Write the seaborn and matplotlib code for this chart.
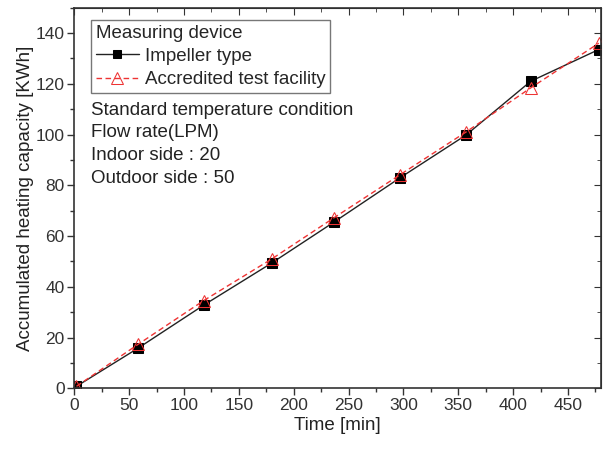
import matplotlib
matplotlib.use("Agg")
import matplotlib.pyplot as plt
import seaborn as sns
import pandas as pd
from matplotlib.ticker import MultipleLocator

sns.set_style("ticks")
plt.rcParams['font.family'] = ['Liberation Sans', 'DejaVu Sans']

time_min = [2, 58, 118, 180, 237, 297, 357, 416, 478]
impeller = [0.8, 15.8, 32.8, 49.4, 65.6, 83.0, 99.8, 121.0, 133.5]
accredited = [0.8, 17.3, 34.6, 51.0, 67.3, 84.2, 101.0, 118.4, 136.0]

series_names = ["Impeller type", "Accredited test facility"]

df = pd.DataFrame({
    "Time": time_min * 2,
    "Capacity": impeller + accredited,
    "Device": [series_names[0]] * len(time_min) + [series_names[1]] * len(time_min),
})

fig = plt.figure(figsize=(6.04, 4.5), dpi=100)
ax = fig.add_axes([0.123, 0.137, 0.872, 0.846])

sns.lineplot(data=df[df.Device == series_names[0]], x="Time", y="Capacity", ax=ax,
             color="#222222", lw=1.0, marker="s", markersize=7, markerfacecolor="black",
             markeredgecolor="black", label=series_names[0], linestyle="-")
sns.lineplot(data=df[df.Device == series_names[1]], x="Time", y="Capacity", ax=ax,
             color="#ee3333", lw=1.0, marker="^", markersize=9, markerfacecolor="none",
             markeredgecolor="#ee3333", label=series_names[1], linestyle=(0, (4, 2.5)))

ax.set_xlim(0, 480)
ax.set_ylim(0, 150)
ax.xaxis.set_major_locator(MultipleLocator(50))
ax.xaxis.set_minor_locator(MultipleLocator(25))
ax.yaxis.set_major_locator(MultipleLocator(20))
ax.yaxis.set_minor_locator(MultipleLocator(10))
ax.tick_params(which="both", direction="out", top=False, right=False, labelsize=12.5, colors="#333333", pad=2)
ax.tick_params(which="major", length=5, width=1)
ax.tick_params(which="minor", length=3, width=1)
axt = ax.secondary_xaxis("top")
axt.xaxis.set_major_locator(MultipleLocator(50))
axt.xaxis.set_minor_locator(MultipleLocator(25))
axt.tick_params(which="both", direction="in", labeltop=False, colors="#333333")
axt.tick_params(which="major", length=5)
axt.tick_params(which="minor", length=3)
axr = ax.secondary_yaxis("right")
axr.yaxis.set_major_locator(MultipleLocator(20))
axr.yaxis.set_minor_locator(MultipleLocator(10))
axr.tick_params(which="both", direction="in", labelright=False, colors="#333333")
axr.tick_params(which="major", length=5)
axr.tick_params(which="minor", length=3)
for s in ax.spines.values():
    s.set_color("#333333")
    s.set_linewidth(1.2)

ax.set_xlabel("Time [min]", fontsize=13.5, color="#222222", labelpad=3)
ax.set_ylabel("Accumulated heating capacity [KWh]", fontsize=13.5, color="#222222", labelpad=1)

leg = ax.legend(title="Measuring device", loc="upper left", bbox_to_anchor=(0.032, 0.968),
                fontsize=13.5, title_fontsize=13.5, frameon=True, fancybox=False,
                edgecolor="#555555", borderpad=0.25, labelspacing=0.33, handlelength=2.3,
                handletextpad=0.3, borderaxespad=0, markerscale=0.9)
leg._legend_box.align = "left"
leg.get_frame().set_linewidth(1.0)

notes = ["Standard temperature condition", "Flow rate(LPM)", "Indoor side : 20", "Outdoor side : 50"]
for i, t in enumerate(notes):
    ax.text(0.032, 0.731 - i * 0.060, t, transform=ax.transAxes, fontsize=13.5, color="#222222", va="center")

fig.savefig("out.png", dpi=100)
